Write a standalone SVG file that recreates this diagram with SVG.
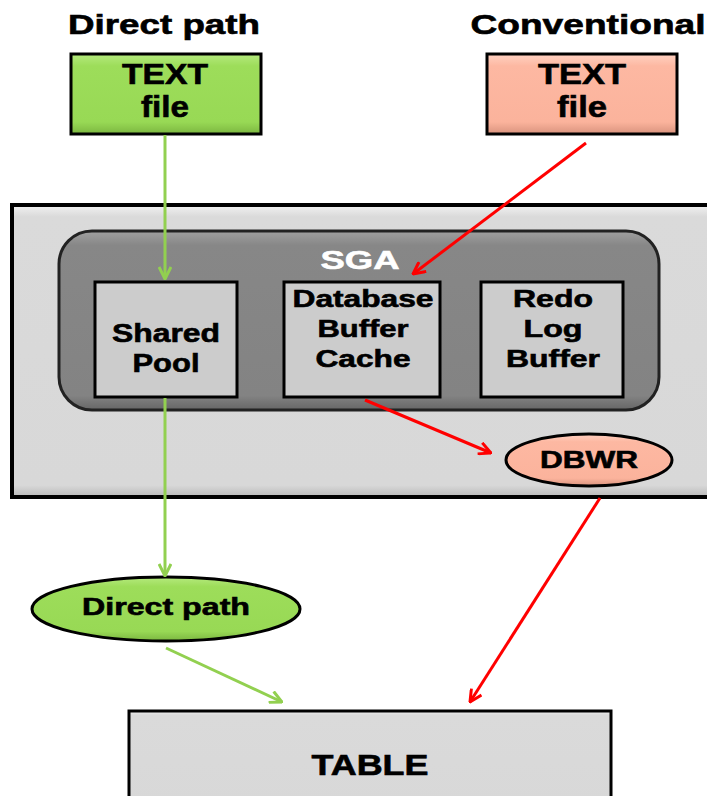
<svg xmlns="http://www.w3.org/2000/svg" width="707" height="796" viewBox="0 0 707 796">
<style>
  text { font-family: "Liberation Sans", Arial, sans-serif; font-weight: bold; fill: #000; stroke: #000; stroke-width: 0.6; text-anchor: middle; }
  .box { stroke: #000; stroke-width: 3; }
  .g { stroke: #92d050; stroke-width: 3; fill: none; }
  .r { stroke: #ff0000; stroke-width: 3; fill: none; }
</style>
<defs>
  <marker id="ag" viewBox="0 0 14 14" refX="13" refY="7" markerWidth="14" markerHeight="14" markerUnits="userSpaceOnUse" orient="auto">
    <path d="M1,1 L13,7 L1,13" fill="none" stroke="#92d050" stroke-width="3"/>
  </marker>
  <marker id="ar" viewBox="0 0 14 14" refX="13" refY="7" markerWidth="14" markerHeight="14" markerUnits="userSpaceOnUse" orient="auto">
    <path d="M1,1 L13,7 L1,13" fill="none" stroke="#ff0000" stroke-width="3"/>
  </marker>
  <linearGradient id="gg" x1="0" y1="0" x2="0" y2="1">
    <stop offset="0" stop-color="#b5ea7e"/><stop offset="0.15" stop-color="#9ddd5a"/><stop offset="0.85" stop-color="#98d955"/><stop offset="1" stop-color="#7bb640"/>
  </linearGradient>
  <linearGradient id="pg" x1="0" y1="0" x2="0" y2="1">
    <stop offset="0" stop-color="#ffd2c2"/><stop offset="0.15" stop-color="#fdb8a2"/><stop offset="0.85" stop-color="#fbb39c"/><stop offset="1" stop-color="#d9937e"/>
  </linearGradient>
  <linearGradient id="lg" x1="0" y1="0" x2="0" y2="1">
    <stop offset="0" stop-color="#f2f2f2"/><stop offset="0.04" stop-color="#dadada"/><stop offset="0.96" stop-color="#d8d8d8"/><stop offset="1" stop-color="#b8b8b8"/>
  </linearGradient>
  <linearGradient id="sg" x1="0" y1="0" x2="0" y2="1">
    <stop offset="0" stop-color="#a0a0a0"/><stop offset="0.08" stop-color="#878787"/><stop offset="0.92" stop-color="#838383"/><stop offset="1" stop-color="#666"/>
  </linearGradient>
</defs>

<g id="title-direct"><text x="164" y="34" font-size="27" textLength="192" lengthAdjust="spacingAndGlyphs">Direct path</text></g>
<g id="title-conventional"><text x="588" y="34" font-size="27" textLength="235" lengthAdjust="spacingAndGlyphs">Conventional</text></g>

<g id="text-file-green">
  <rect class="box" x="71" y="54" width="190" height="80" fill="url(#gg)"/>
  <text x="165" y="84" font-size="29" textLength="86" lengthAdjust="spacingAndGlyphs">TEXT</text>
  <text x="165" y="117" font-size="29" textLength="48" lengthAdjust="spacingAndGlyphs">file</text>
</g>
<g id="text-file-pink">
  <rect class="box" x="487" y="54" width="190" height="80" fill="url(#pg)"/>
  <text x="582" y="84" font-size="29" textLength="88" lengthAdjust="spacingAndGlyphs">TEXT</text>
  <text x="582" y="117" font-size="29" textLength="50" lengthAdjust="spacingAndGlyphs">file</text>
</g>

<g id="instance">
  <rect x="12" y="205" width="720" height="292" fill="url(#lg)" stroke="#000" stroke-width="4"/>
</g>
<g id="sga">
  <rect x="59" y="231" width="600" height="179" rx="33" ry="33" fill="url(#sg)" stroke="#222" stroke-width="3"/>
  <text x="360" y="269" font-size="26" style="fill:#fff;stroke:#fff" textLength="79" lengthAdjust="spacingAndGlyphs">SGA</text>
</g>
<g id="shared-pool">
  <rect class="box" x="95" y="282" width="142" height="115" fill="#cccccc"/>
  <text x="166" y="342" font-size="25" textLength="108" lengthAdjust="spacingAndGlyphs">Shared</text>
  <text x="166" y="372" font-size="25" textLength="67" lengthAdjust="spacingAndGlyphs">Pool</text>
</g>
<g id="db-buffer-cache">
  <rect class="box" x="284" y="282" width="156" height="115" fill="#cccccc"/>
  <text x="363" y="307" font-size="24" textLength="141" lengthAdjust="spacingAndGlyphs">Database</text>
  <text x="363" y="337" font-size="24" textLength="91" lengthAdjust="spacingAndGlyphs">Buffer</text>
  <text x="363" y="367" font-size="24" textLength="95" lengthAdjust="spacingAndGlyphs">Cache</text>
</g>
<g id="redo-log-buffer">
  <rect class="box" x="481" y="282" width="142" height="115" fill="#cccccc"/>
  <text x="553" y="307" font-size="24" textLength="80" lengthAdjust="spacingAndGlyphs">Redo</text>
  <text x="553" y="337" font-size="24" textLength="59" lengthAdjust="spacingAndGlyphs">Log</text>
  <text x="553" y="367" font-size="24" textLength="94" lengthAdjust="spacingAndGlyphs">Buffer</text>
</g>
<g id="dbwr">
  <ellipse class="box" cx="589" cy="460" rx="83" ry="26" fill="url(#pg)"/>
  <text x="589" y="468" font-size="23" textLength="98" lengthAdjust="spacingAndGlyphs">DBWR</text>
</g>
<g id="direct-path">
  <ellipse class="box" cx="166" cy="609" rx="134" ry="32" fill="url(#gg)"/>
  <text x="166" y="615" font-size="23" textLength="168" lengthAdjust="spacingAndGlyphs">Direct path</text>
</g>
<g id="table">
  <rect class="box" x="129" y="711" width="482" height="100" fill="url(#lg)"/>
  <text x="370" y="775" font-size="29" textLength="117" lengthAdjust="spacingAndGlyphs">TABLE</text>
</g>

<g id="connectors">
  <line class="g" x1="165" y1="135" x2="165" y2="279" marker-end="url(#ag)"/>
  <line class="g" x1="165" y1="398" x2="165" y2="576" marker-end="url(#ag)"/>
  <line class="g" x1="166" y1="648" x2="282" y2="702" marker-end="url(#ag)"/>
  <line class="r" x1="586" y1="143" x2="413" y2="274" marker-end="url(#ar)"/>
  <line class="r" x1="365" y1="400" x2="491" y2="453" marker-end="url(#ar)"/>
  <line class="r" x1="600" y1="498" x2="470" y2="702" marker-end="url(#ar)"/>
</g>
</svg>
